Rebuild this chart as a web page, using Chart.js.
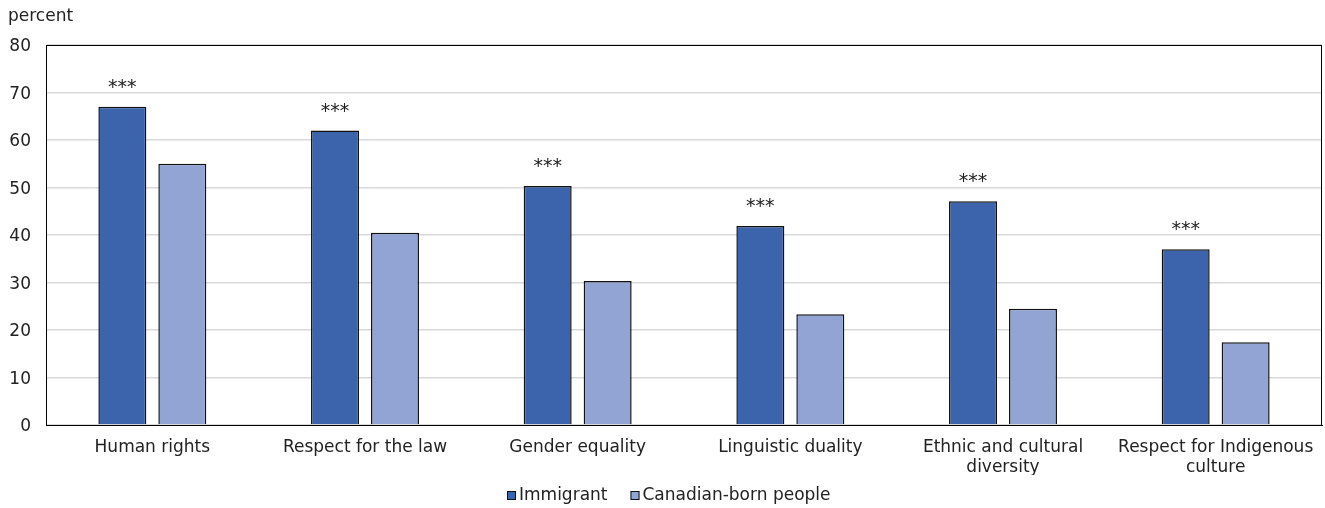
<!DOCTYPE html>
<html>
<head>
<meta charset="utf-8">
<script src="https://cdn.jsdelivr.net/npm/chart.js@4/dist/chart.umd.min.js"></script>
<style>
  html, body { margin: 0; padding: 0; background: #ffffff; }
  #wrap { width: 1325px; height: 508px; position: relative; }
</style>
</head>
<body>
<div id="wrap"><canvas id="chart" width="1325" height="508"></canvas></div>
<script>
// Values shown, in percent
const categories = [
  'Human rights',
  'Respect for the law',
  'Gender equality',
  'Linguistic duality',
  ['Ethnic and cultural', 'diversity'],
  ['Respect for Indigenous', 'culture']
];
const immigrant = [67, 62, 50.3, 41.9, 47.1, 37];
const canadianBorn = [55, 40.5, 30.3, 23.3, 24.5, 17.4];
const significance = ['***', '***', '***', '***', '***', '***'];
const yTicks = [0, 10, 20, 30, 40, 50, 60, 70, 80];

const FONT = '"DejaVu Sans", Verdana, sans-serif';
const TEXT = '#222222';

// Plot frame, unit label, significance markers and the legend row
const extras = {
  id: 'extras',
  afterDatasetsDraw(chart) {
    const ctx = chart.ctx;
    const a = chart.chartArea;
    ctx.save();
    ctx.strokeStyle = '#000000';
    ctx.lineWidth = 1;
    ctx.strokeRect(Math.round(a.left) + 0.5, Math.round(a.top) + 0.5,
                   Math.round(a.right - a.left) - 1, Math.round(a.bottom - a.top));

    ctx.fillStyle = TEXT;
    ctx.font = '17px ' + FONT;
    ctx.textAlign = 'left';
    ctx.textBaseline = 'alphabetic';
    ctx.fillText('percent', 8, 21);

    const meta = chart.getDatasetMeta(0);
    ctx.font = '19px ' + FONT;
    ctx.textAlign = 'center';
    meta.data.forEach((bar, i) => {
      if (significance[i]) ctx.fillText(significance[i], bar.x, bar.y - 14);
    });

    // legend: small framed swatch followed by the series name
    ctx.font = '17px ' + FONT;
    ctx.textAlign = 'left';
    ctx.textBaseline = 'middle';
    const box = 9, gapText = 3, gapItem = 23;
    const sets = chart.data.datasets;
    const widths = sets.map(d => box + gapText + ctx.measureText(d.label).width);
    const total = widths.reduce((s, w) => s + w, 0) + gapItem * (sets.length - 1);
    let x = Math.round(chart.width / 2 + 6 - total / 2);
    const cy = 496;
    sets.forEach((d, i) => {
      ctx.fillStyle = d.backgroundColor;
      ctx.fillRect(x, cy - 5, box, box);
      ctx.strokeStyle = '#111111';
      ctx.lineWidth = 1;
      ctx.strokeRect(x + 0.5, cy - 4.5, box - 1, box - 1);
      ctx.fillStyle = TEXT;
      ctx.fillText(d.label, x + box + gapText, cy);
      x += widths[i] + gapItem;
    });
    ctx.restore();
  }
};

new Chart(document.getElementById('chart'), {
  type: 'bar',
  data: {
    labels: categories,
    datasets: [
      {
        label: 'Immigrant',
        data: immigrant,
        backgroundColor: '#3b64ad',
        borderColor: '#111111',
        borderWidth: 1.5,
        categoryPercentage: 0.564,
        barPercentage: 0.8
      },
      {
        label: 'Canadian-born people',
        data: canadianBorn,
        backgroundColor: '#91a4d4',
        borderColor: '#111111',
        borderWidth: 1.5,
        categoryPercentage: 0.564,
        barPercentage: 0.8
      }
    ]
  },
  options: {
    responsive: false,
    animation: false,
    layout: { padding: { top: 45, right: 3, bottom: 33, left: 0 } },
    scales: {
      x: {
        grid: { display: false },
        border: { display: true, color: '#000000', width: 1 },
        ticks: {
          color: TEXT,
          font: { family: FONT, size: 17 },
          maxRotation: 0,
          autoSkip: false,
          padding: 4
        },
        afterFit(scale) { scale.height = 50; }
      },
      y: {
        min: 0,
        max: 80,
        afterBuildTicks(scale) { scale.ticks = yTicks.map(v => ({ value: v })); },
        grid: {
          color: '#d9d9d9',
          lineWidth: 1.5,
          drawTicks: false
        },
        border: { display: true, color: '#000000', width: 1 },
        ticks: {
          color: TEXT,
          font: { family: FONT, size: 17 },
          padding: 15,
          labelOffset: 2
        },
        afterFit(scale) { scale.width = 46; }
      }
    },
    plugins: {
      legend: { display: false },
      tooltip: { enabled: false }
    }
  },
  plugins: [extras]
});
</script>
</body>
</html>
